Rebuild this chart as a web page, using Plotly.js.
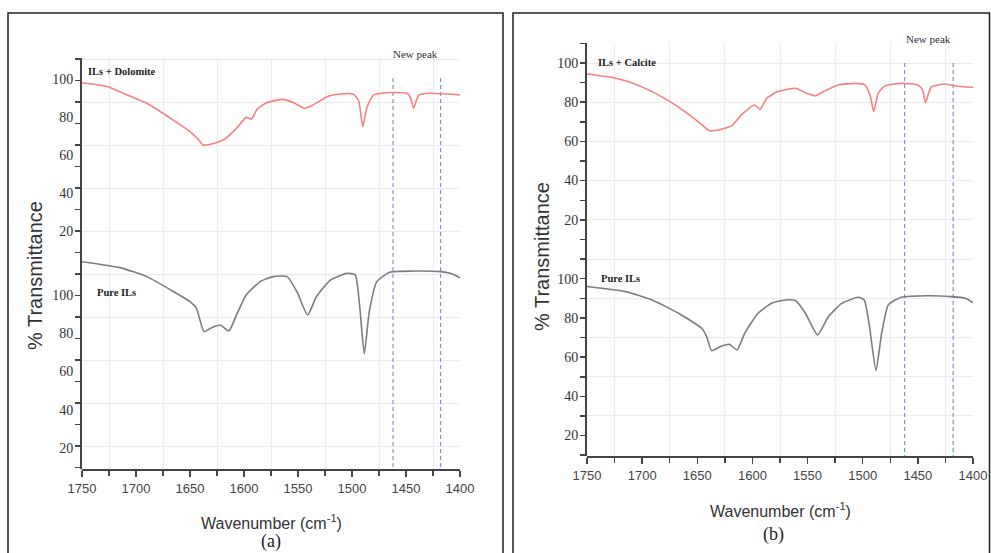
<!DOCTYPE html>
<html>
<head>
<meta charset="utf-8">
<script src="https://cdn.plot.ly/plotly-3.0.1.min.js"></script>
<style>html,body{margin:0;padding:0;background:#fff;}#chart{width:991px;height:553px;}</style>
</head>
<body>
<div id="chart"></div>
<script>
// ---------- data ----------
const xTickStep = 50;
const yTickVals = [20, 40, 60, 80, 100];
const newPeakX = [1462, 1418];

// Panel (a): ILs + Dolomite
const aRedX = [1750, 1727, 1712, 1690, 1668, 1650, 1642, 1638, 1628, 1618, 1607, 1598, 1593, 1588, 1579, 1564, 1554, 1544, 1536, 1523, 1511, 1499, 1494, 1490, 1486, 1480, 1468, 1449, 1446, 1443, 1440, 1438, 1428, 1412, 1400];
const aRedY = [98, 96, 92.6, 87.2, 79.3, 72.3, 68, 65.3, 66.1, 68.3, 74, 79.8, 78.9, 84, 87.5, 89.3, 87.5, 84.6, 86.3, 90.7, 92.1, 92.1, 88.9, 74.9, 85.4, 91.6, 92.8, 92.5, 90.5, 84.6, 89.5, 91.6, 92.5, 92.1, 91.6];
// Panel (a): Pure ILs
const aGrayX = [1750, 1715, 1690, 1665, 1650, 1644, 1637, 1630, 1622, 1614, 1607, 1598, 1585, 1573, 1560, 1551, 1541, 1533, 1520, 1505, 1497, 1493, 1488.6, 1484, 1477, 1465, 1443, 1418, 1409, 1400];
const aGrayY = [117.4, 114.3, 109.6, 101.7, 96.5, 93, 80.8, 82.9, 84.3, 81.2, 89.5, 100, 107, 109.6, 109.6, 101.7, 89.5, 99.1, 107.8, 111.3, 110.5, 94.8, 69.2, 91.3, 107, 111.9, 112.5, 112.2, 111.3, 109];

// Panel (b): ILs + Calcite
const bRedX = [1750, 1728, 1713, 1691, 1670, 1649, 1639, 1631, 1619, 1610, 1598, 1593, 1587, 1577, 1561, 1552, 1543, 1534, 1522, 1507, 1498, 1493, 1490, 1486, 1480, 1465, 1450, 1446, 1443, 1440, 1437.5, 1425, 1416, 1400];
const bRedY = [94.4, 92.7, 90.5, 85.4, 78.6, 70, 65.5, 65.8, 67.9, 73.5, 78.6, 76.4, 82, 85.4, 87.1, 84.9, 83.3, 85.9, 88.8, 89.6, 88.8, 82.8, 75.2, 84.5, 88.3, 89.6, 88.8, 86.5, 79.8, 85, 87.9, 89.3, 88.3, 87.6];
// Panel (b): Pure ILs
const bGrayX = [1750, 1715, 1691, 1667, 1646, 1641.5, 1637, 1629, 1621, 1614, 1607, 1595, 1582.5, 1570.5, 1561, 1552, 1541, 1531, 1519, 1504, 1498.6, 1494.3, 1488, 1482.8, 1476.8, 1465, 1440.6, 1419.4, 1407, 1400];
const bGrayY = [96.1, 93.5, 89.2, 82.4, 74.7, 70.4, 63.2, 65.3, 66.5, 63.6, 72.1, 82.4, 87.5, 89.2, 88.9, 82.4, 71.3, 80.7, 87.5, 90.6, 89.2, 77.3, 53, 72.2, 86.7, 90.6, 91.4, 90.9, 90.1, 87.8];

// ---------- layout helpers ----------
const W = 991, H = 553;
const fx = p => p / W;
const fy = p => 1 - p / H;

const RED = 'rgb(244,128,128)';
const GRAY = 'rgb(125,125,125)';
const BLUE = 'rgb(110,155,220)';
const AX = '#444';
const GRID = '#ebebeb';
const SERIF = 'Liberation Serif, Times New Roman, serif';
const SANS = 'Liberation Sans, Arial, sans-serif';

function peakTrace(xa, ya, yTop, yBot) {
  const x = [], y = [];
  newPeakX.forEach(v => { x.push(v, v, null); y.push(yTop, yBot, null); });
  return {x, y, xaxis: xa, yaxis: ya, mode: 'lines', type: 'scatter',
          line: {color: BLUE, width: 1.2, dash: '4px,3px'}, hoverinfo: 'skip', showlegend: false};
}
function curve(x, y, color, xa, ya) {
  return {x, y, xaxis: xa, yaxis: ya, mode: 'lines', type: 'scatter',
          line: {color, width: 1.6, shape: 'spline', smoothing: 0.5}, hoverinfo: 'skip', showlegend: false};
}

function gridX(dom, anchor) {
  return {domain: dom, range: [1750, 1400], anchor, showgrid: true, gridcolor: GRID, gridwidth: 1,
          tickmode: 'linear', tick0: 1725, dtick: xTickStep, showticklabels: false, ticks: '',
          zeroline: false, showline: false, fixedrange: true};
}
function gridY(dom, range, anchor) {
  return {domain: dom, range, anchor, showgrid: true, gridcolor: GRID, gridwidth: 1,
          tickmode: 'linear', tick0: 0, dtick: 20, ticks: 'outside', ticklen: 5, tickwidth: 1.5, tickcolor: AX,
          showticklabels: false, showline: true, linecolor: AX, linewidth: 2, zeroline: false,
          minor: {tickmode: 'linear', tick0: 0, dtick: 10, ticks: 'outside', ticklen: 5, tickwidth: 1.5, tickcolor: AX, showgrid: false},
          fixedrange: true};
}
function dataX(dom, anchor) {
  return {domain: dom, range: [1750, 1400], anchor, showgrid: false, zeroline: false,
          tickmode: 'linear', tick0: 1400, dtick: xTickStep, ticks: 'outside', ticklen: 6, tickwidth: 1.5, tickcolor: AX,
          showline: true, linecolor: AX, linewidth: 2,
          tickfont: {family: SANS, size: 13, color: '#444'},
          minor: {tickmode: 'linear', tick0: 1400, dtick: 25, ticks: 'outside', ticklen: 5, tickwidth: 1.5, tickcolor: AX, showgrid: false},
          fixedrange: true};
}
function dataY(dom, range, anchor) {
  return {domain: dom, range, anchor, showgrid: false, zeroline: false, showline: false,
          tickmode: 'array', tickvals: yTickVals, ticktext: yTickVals.map(String),
          ticks: 'outside', ticklen: 5, tickcolor: 'rgba(0,0,0,0)',
          tickfont: {family: SERIF, size: 14, color: '#333'}, fixedrange: true};
}

// panel pixel frames
const A = {l: 82, r: 460, t: 58, s: 255, b: 469};
const B = {l: 587, r: 973, t: 43, s: 268, b: 456};
const Adx = [fx(A.l), fx(A.r)], Bdx = [fx(B.l), fx(B.r)];

const data = [
  peakTrace('x', 'y', 91.2, -90.7),
  curve(aRedX, aRedY, RED, 'x2', 'y2'),
  curve(aGrayX, aGrayY, GRAY, 'x2', 'y3'),
  peakTrace('x3', 'y4', 100, -100.4),
  curve(bRedX, bRedY, RED, 'x4', 'y5'),
  curve(bGrayX, bGrayY, GRAY, 'x4', 'y6')
];

function ann(text, px, py, opts) {
  return Object.assign({text, x: fx(px), y: fy(py), xref: 'paper', yref: 'paper', showarrow: false,
                        xanchor: 'center', yanchor: 'middle'}, opts);
}
const labFont = {family: SERIF, size: 10.5, color: '#222'};

const layout = {
  width: W, height: H,
  margin: {l: 0, r: 0, t: 0, b: 0},
  paper_bgcolor: '#fff', plot_bgcolor: 'rgba(0,0,0,0)',
  showlegend: false,
  xaxis: gridX(Adx, 'y'),
  yaxis: gridY([fy(A.b), fy(A.t)], [-90.7, 100.5], 'x'),
  xaxis2: dataX(Adx, 'y3'),
  yaxis2: dataY([fy(A.s), fy(A.t)], [7.4, 111.05], 'x2'),
  yaxis3: dataY([fy(A.b), fy(A.s)], [9.02, 120.9], 'x2'),
  xaxis3: gridX(Bdx, 'y4'),
  yaxis4: gridY([fy(B.b), fy(B.t)], [-100.4, 110.2], 'x3'),
  xaxis4: dataX(Bdx, 'y6'),
  yaxis5: dataY([fy(B.s), fy(B.t)], [-4.6, 110.2], 'x4'),
  yaxis6: dataY([fy(B.b), fy(B.s)], [9.2, 105.6], 'x4'),
  shapes: [
    {type: 'rect', xref: 'paper', yref: 'paper', x0: fx(8), x1: fx(503), y0: -0.05, y1: fy(13), line: {color: '#222', width: 1.5}},
    {type: 'rect', xref: 'paper', yref: 'paper', x0: fx(513), x1: fx(989.5), y0: -0.05, y1: fy(13), line: {color: '#222', width: 1.5}}
  ],
  annotations: [
    ann('% Transmittance', 35, 276, {textangle: -90, font: {family: SANS, size: 20, color: '#333'}}),
    ann('Wavenumber (cm<sup>-1</sup>)', 271, 522, {font: {family: SANS, size: 16, color: '#333'}}),
    ann('(a)', 271, 541, {font: {family: SERIF, size: 18, color: '#222'}}),
    ann('<b>ILs + Dolomite</b>', 86, 71, {xanchor: 'left', font: labFont}),
    ann('New peak', 415, 54, {font: {family: SERIF, size: 11, color: '#333'}}),
    ann('<b>Pure ILs</b>', 95, 292, {xanchor: 'left', font: labFont}),

    ann('% Transmittance', 542, 257, {textangle: -90, font: {family: SANS, size: 20, color: '#333'}}),
    ann('Wavenumber (cm<sup>-1</sup>)', 780, 510, {font: {family: SANS, size: 16, color: '#333'}}),
    ann('(b)', 773, 534, {font: {family: SERIF, size: 18, color: '#222'}}),
    ann('<b>ILs + Calcite</b>', 596, 63, {xanchor: 'left', font: labFont}),
    ann('New peak', 928, 39, {font: {family: SERIF, size: 11, color: '#333'}}),
    ann('<b>Pure ILs</b>', 599, 278, {xanchor: 'left', font: labFont})
  ]
};

Plotly.newPlot('chart', data, layout, {staticPlot: true, displayModeBar: false});
</script>
</body>
</html>
